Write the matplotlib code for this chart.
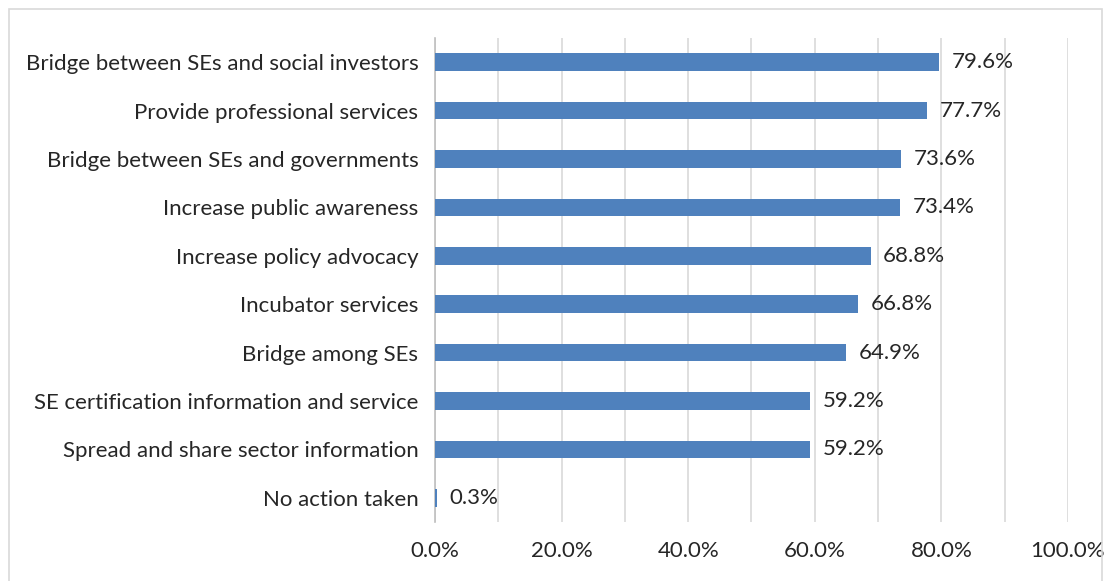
import matplotlib.pyplot as plt
from matplotlib.patches import Rectangle
from matplotlib.ticker import MultipleLocator, FuncFormatter

categories = [
    'Bridge between SEs and social investors',
    'Provide professional services',
    'Bridge between SEs and governments',
    'Increase public awareness',
    'Increase policy advocacy',
    'Incubator services',
    'Bridge among SEs',
    'SE certification information and service',
    'Spread and share sector information',
    'No action taken',
]
values = [79.6, 77.7, 73.6, 73.4, 68.8, 66.8, 64.9, 59.2, 59.2, 0.3]

plt.rcParams['font.family'] = ['Lato', 'DejaVu Sans']

fig = plt.figure(figsize=(11.05, 5.81), dpi=100)
ax = fig.add_axes([435 / 1105, 1 - 522 / 581, (1068 - 435) / 1105, (522 - 38) / 581])

# outer chart border
fig.patches.append(Rectangle((9 / 1105, -0.02), (1102 - 9) / 1105, 1 - 9 / 581 + 0.02,
                             transform=fig.transFigure, fill=False,
                             edgecolor='#D9D9D9', linewidth=1.2))

fs = 16
y = list(range(len(categories)))
ax.barh(y, values, height=0.36, color='#4F81BD', zorder=3)
for yi, v in zip(y, values):
    ax.text(v + 2.0, yi, f'{v:.1f}%', va='center', ha='left', fontsize=fs, color='#262626')

ax.set_xlim(0, 100)
ax.set_ylim(len(categories) - 0.5, -0.5)
ax.set_yticks(y)
ax.set_yticklabels(categories, fontsize=fs, color='#262626')
ax.xaxis.set_major_locator(MultipleLocator(20))
ax.xaxis.set_minor_locator(MultipleLocator(10))
ax.xaxis.set_major_formatter(FuncFormatter(lambda x, p: f'{x:.1f}%'))
ax.tick_params(axis='x', which='both', length=0, pad=14, labelsize=fs, labelcolor='#262626')
ax.tick_params(axis='y', length=0, pad=12)
ax.grid(axis='x', which='both', color='#D9D9D9', linewidth=1.2, zorder=0)

for s in ['top', 'right', 'bottom']:
    ax.spines[s].set_visible(False)
ax.spines['left'].set_color('#BFBFBF')
ax.spines['left'].set_linewidth(1.2)

fig.savefig('out.png', dpi=100)
